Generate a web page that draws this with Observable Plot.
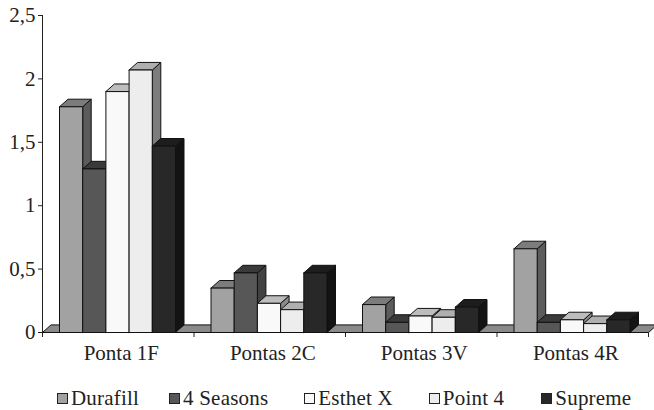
<!DOCTYPE html>
<html>
<head>
<meta charset="utf-8">
<script src="https://cdn.jsdelivr.net/npm/d3@7"></script>
<script src="https://cdn.jsdelivr.net/npm/@observablehq/plot@0.6"></script>
<style>
  body { margin: 0; background: #fff; }
  #chart { width: 654px; font-family: "Liberation Serif", "Times New Roman", Tinos, Times, "DejaVu Serif", "Noto Serif", serif; color: #222; }
  .legend { display: flex; justify-content: flex-start; padding-left: 57px; padding-top: 8px; height: 40px; align-items: center; font-size: 21px; letter-spacing: 0.2px; }
  .legend .item { display: flex; align-items: center; }
  .legend .sw { width: 9px; height: 9px; border: 1px solid #222; margin-right: 3px; }
</style>
</head>
<body>
<div id="chart"></div>
<script>
const categories = ["Ponta 1F", "Pontas 2C", "Pontas 3V", "Pontas 4R"];
const series = ["Durafill", "4 Seasons", "Esthet X", "Point 4", "Supreme"];
const durafill    = [1.78, 0.35, 0.22, 0.66];
const fourSeasons = [1.29, 0.47, 0.08, 0.08];
const esthetX     = [1.90, 0.23, 0.13, 0.10];
const point4      = [2.07, 0.18, 0.12, 0.07];
const supreme     = [1.47, 0.47, 0.20, 0.10];
const yTicks = [0, 0.5, 1, 1.5, 2, 2.5];

const values = [durafill, fourSeasons, esthetX, point4, supreme];
// face colours: front, top, side
const shades = [
  ["#a2a2a2", "#7c7c7c", "#5c5c5c"],
  ["#575757", "#3a3a3a", "#424242"],
  ["#f9f9f9", "#bdbdbd", "#8a8a8a"],
  ["#ededed", "#afafaf", "#7d7d7d"],
  ["#282828", "#1d1d1d", "#131313"]
];
const legendGaps = [0, 30, 36, 36, 37];
const FONT = '"Liberation Serif", "Times New Roman", Tinos, Times, "DejaVu Serif", "Noto Serif", serif';

const W = 654, H = 370, mL = 42, mR = 6, mT = 15, mB = 38;
const xPx = (W - mL - mR) / categories.length;       // px per category
const yPx = (H - mT - mB) / 2.5;                     // px per unit
const pad = 17 / xPx, bw = 23.2 / xPx;
const ddx = 8.5 / xPx, ddy = 7.6 / yPx;

const faces = [];
let fid = 0;
function poly(pts, fill) {
  const id = fid++;
  for (const [x, y] of pts) faces.push({id, x, y, fill});
  faces.push({id, x: pts[0][0], y: pts[0][1], fill});
}
// floor
poly([[0, 0], [categories.length, 0], [categories.length + ddx, ddy], [ddx, ddy]], "#8a8a8a");
categories.forEach((c, i) => {
  series.forEach((s, j) => {
    const v = values[j][i];
    const x0 = i + pad + j * bw, x1 = x0 + bw;
    const [front, top, side] = shades[j];
    poly([[x1, 0], [x1 + ddx, ddy], [x1 + ddx, v + ddy], [x1, v]], side);
    poly([[x0, v], [x1, v], [x1 + ddx, v + ddy], [x0 + ddx, v + ddy]], top);
    poly([[x0, 0], [x1, 0], [x1, v], [x0, v]], front);
  });
});

const labels = categories.map((c, i) => ({x: i + 0.5, label: c}));

const plot = Plot.plot({
  width: W, height: H,
  marginLeft: mL, marginRight: mR, marginTop: mT, marginBottom: mB,
  style: {fontFamily: FONT, fontSize: "21px", color: "#222", background: "#fff"},
  x: {domain: [0, categories.length], ticks: d3.range(categories.length + 1), tickFormat: () => "", tickSize: 5, line: true, label: null},
  y: {domain: [0, 2.5], ticks: yTicks, tickFormat: d => String(d).replace(".", ","), tickSize: 4, tickPadding: 3, line: true, label: null},
  color: {type: "identity"},
  marks: [
    Plot.line(faces, {x: "x", y: "y", z: "id", fill: "fill", stroke: "#111", strokeWidth: 1, strokeLinejoin: "miter", curve: "linear"}),
    Plot.text(labels, {x: "x", y: () => 0, text: "label", dy: 21, dx: 3, fontSize: 21, fill: "#222", fontFamily: FONT, style: "letter-spacing:0.6px"})
  ]
});
plot.querySelectorAll("text").forEach(t => t.setAttribute("font-family", FONT));
document.getElementById("chart").appendChild(plot);

const legend = document.createElement("div");
legend.className = "legend";
series.forEach((s, j) => {
  const it = document.createElement("div");
  it.className = "item";
  it.style.marginLeft = legendGaps[j] + "px";
  const sw = document.createElement("span");
  sw.className = "sw";
  sw.style.background = shades[j][0];
  it.appendChild(sw);
  const t = document.createElement("span");
  t.textContent = s;
  it.appendChild(t);
  legend.appendChild(it);
});
document.getElementById("chart").appendChild(legend);
</script>
</body>
</html>
